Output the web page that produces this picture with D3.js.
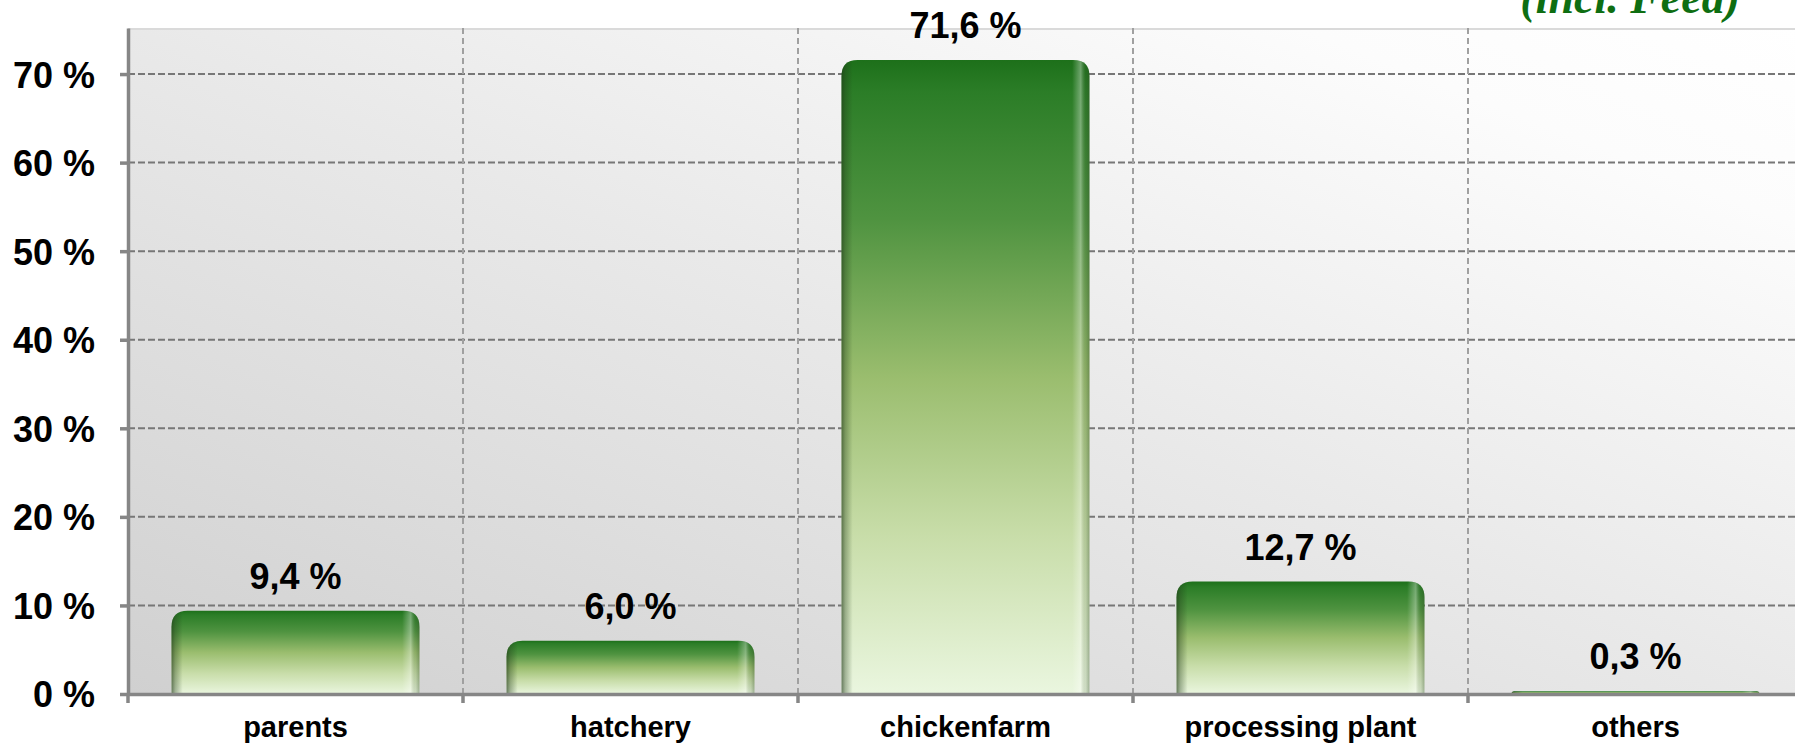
<!DOCTYPE html>
<html><head><meta charset="utf-8">
<script src="https://cdn.jsdelivr.net/npm/d3@7"></script>
<style>html,body{margin:0;padding:0;background:#fff;overflow:hidden}</style>
</head><body>
<svg id="chart" width="1795" height="747"></svg>
<script>
// ---- data ----
const categories = ["parents", "hatchery", "chickenfarm", "processing plant", "others"];
const shares = [9.4, 6.0, 71.6, 12.7, 0.3];
const valueLabels = ["9,4 %", "6,0 %", "71,6 %", "12,7 %", "0,3 %"];
const yTicks = [0, 10, 20, 30, 40, 50, 60, 70];
const yTickLabels = ["0 %", "10 %", "20 %", "30 %", "40 %", "50 %", "60 %", "70 %"];
const noteText = "(incl. Feed)";

// ---- layout ----
const M = {left: 128, top: 28, right: 1803, bottom: 694};
const yMax = 75.2;
const svg = d3.select("#chart");
const FONT = "'Liberation Sans', Arial, sans-serif";

const x = d3.scaleBand().domain(categories).range([M.left, M.right])
  .paddingInner(0.26).paddingOuter(0.13);
const y = d3.scaleLinear().domain([0, yMax]).range([M.bottom, M.top]);

const defs = svg.append("defs");
const bg = defs.append("linearGradient").attr("id", "bgGrad")
  .attr("x1", 0).attr("y1", 1).attr("x2", 1).attr("y2", 0);
[[0, "#d0d0d0"], [0.5, "#e9e9e9"], [0.85, "#fcfcfc"], [1, "#ffffff"]]
  .forEach(([o, c]) => bg.append("stop").attr("offset", o).attr("stop-color", c));

const bar = defs.append("linearGradient").attr("id", "barGrad")
  .attr("x1", 0).attr("y1", 0).attr("x2", 0).attr("y2", 1);
[[0, "#1d701a"], [0.05, "#2b7d27"], [0.25, "#4f9340"], [0.5, "#9abd6e"], [0.75, "#c8dda9"], [1, "#eaf6df"]]
  .forEach(([o, c]) => bar.append("stop").attr("offset", o).attr("stop-color", c));

const side = defs.append("linearGradient").attr("id", "barSide")
  .attr("x1", 0).attr("y1", 0).attr("x2", 1).attr("y2", 0);
[[0, "#203a18", 0.65], [0.015, "#203a18", 0.35], [0.045, "#203a18", 0.0],
 [0.93, "#ffffff", 0.0], [0.965, "#ffffff", 0.35], [0.985, "#304a28", 0.15], [1, "#304a28", 0.4]]
  .forEach(([o, c, a]) => side.append("stop").attr("offset", o).attr("stop-color", c).attr("stop-opacity", a));

// ---- plot background ----
svg.append("rect").attr("x", M.left).attr("y", M.top)
  .attr("width", M.right - M.left).attr("height", M.bottom - M.top)
  .attr("fill", "url(#bgGrad)");
svg.append("line").attr("x1", M.left).attr("x2", M.right)
  .attr("y1", M.top + 1).attr("y2", M.top + 1)
  .attr("stroke", "#dadada").attr("stroke-width", 2);

// ---- gridlines ----
svg.append("g").selectAll("line").data(yTicks.filter(d => d > 0)).join("line")
  .attr("x1", M.left).attr("x2", M.right)
  .attr("y1", d => y(d)).attr("y2", d => y(d))
  .attr("stroke", "#777").attr("stroke-width", 2).attr("stroke-dasharray", "7,3");

const boundaries = d3.range(0, categories.length + 1).map(k => M.left + k * x.step());
svg.append("g").selectAll("line").data(boundaries.slice(1, categories.length)).join("line")
  .attr("x1", d => d).attr("x2", d => d)
  .attr("y1", M.top).attr("y2", M.bottom)
  .attr("stroke", "#a0a0a0").attr("stroke-width", 2).attr("stroke-dasharray", "6,4");

// ---- bars ----
function topRounded(x0, y0, w, h, r) {
  r = Math.min(r, h, w / 2);
  return `M${x0},${y0 + h}V${y0 + r}Q${x0},${y0} ${x0 + r},${y0}H${x0 + w - r}Q${x0 + w},${y0} ${x0 + w},${y0 + r}V${y0 + h}Z`;
}
const data = categories.map((c, i) => ({c, v: shares[i], label: valueLabels[i]}));
const bars = svg.append("g");
bars.selectAll("path.b").data(data).join("path").attr("class", "b")
  .attr("d", d => topRounded(x(d.c), y(d.v), x.bandwidth(), y(0) - y(d.v), 16))
  .attr("fill", "url(#barGrad)");
bars.selectAll("path.s").data(data).join("path").attr("class", "s")
  .attr("d", d => topRounded(x(d.c), y(d.v), x.bandwidth(), y(0) - y(d.v), 16))
  .attr("fill", "url(#barSide)");

// ---- axes ----
const yAxis = svg.append("g").attr("transform", `translate(${M.left},0)`)
  .call(d3.axisLeft(y).tickValues(yTicks).tickFormat((d, i) => yTickLabels[i])
    .tickSize(8).tickSizeOuter(0).tickPadding(25));
yAxis.select(".domain").attr("stroke", "#868686").attr("stroke-width", 3.5);
yAxis.selectAll(".tick line").attr("stroke", "#868686").attr("stroke-width", 3.5);
yAxis.selectAll(".tick text").attr("font-family", FONT).attr("font-weight", "bold")
  .attr("font-size", 36).attr("fill", "#000").attr("dy", "0.36em");

const xAxis = svg.append("g").attr("transform", `translate(0,${M.bottom})`)
  .call(d3.axisBottom(x).tickSize(0).tickSizeOuter(0));
xAxis.select(".domain").attr("stroke", "#868686").attr("stroke-width", 3.5);
xAxis.selectAll(".tick text").attr("font-family", FONT).attr("font-weight", "bold")
  .attr("font-size", 29).attr("fill", "#000").attr("y", 43).attr("dy", 0);
xAxis.selectAll("line.bnd").data(boundaries).join("line").attr("class", "bnd")
  .attr("x1", d => d).attr("x2", d => d).attr("y1", 0).attr("y2", 9)
  .attr("stroke", "#868686").attr("stroke-width", 3.5);

// ---- value labels ----
svg.append("g").selectAll("text").data(data).join("text")
  .attr("x", d => x(d.c) + x.bandwidth() / 2)
  .attr("y", d => y(d.v) - 22)
  .attr("text-anchor", "middle")
  .attr("font-family", FONT).attr("font-weight", "bold").attr("font-size", 36)
  .attr("fill", "#000").text(d => d.label);

// ---- note (cut off at the top edge, as in the reference) ----
svg.append("text").attr("x", 1740).attr("y", 13).attr("text-anchor", "end")
  .attr("font-family", "'Liberation Serif', 'Times New Roman', serif")
  .attr("font-weight", "bold").attr("font-style", "italic").attr("font-size", 46)
  .attr("fill", "#0e6e12").text(noteText);
</script>
</body></html>
